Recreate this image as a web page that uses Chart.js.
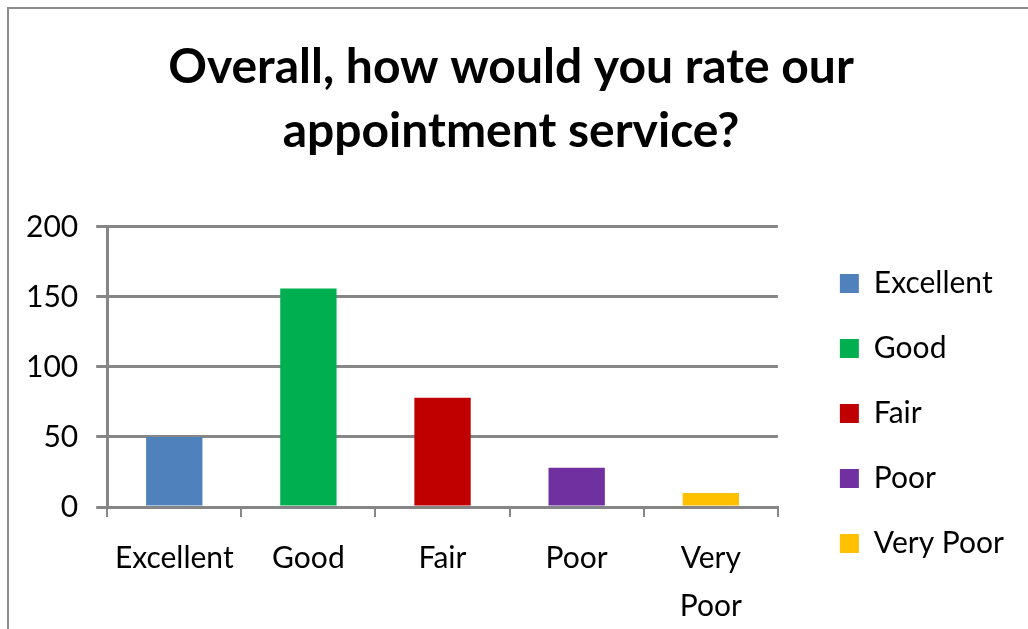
<!DOCTYPE html>
<html>
<head>
<meta charset="utf-8">
<script src="https://cdn.jsdelivr.net/npm/chart.js@4"></script>
<style>
  html, body { margin: 0; padding: 0; background: #fff; }
  #box { width: 1028px; height: 629px; }
</style>
</head>
<body>
<div id="box"><canvas id="grafico"></canvas></div>
<script>
const categorias = ["Excellent", "Good", "Fair", "Poor", "Very Poor"];
const respostas = [50, 156, 78, 28, 10];
const cores = ["#4f81bd", "#00b050", "#c00000", "#7030a0", "#ffc000"];
const ticksY = [0, 50, 100, 150, 200];

const cinza = "#868686";
const fonte = "Lato, 'Liberation Sans', sans-serif";

// moldura cinza da area do grafico
const moldura = {
  id: "moldura",
  beforeDraw(chart) {
    const ctx = chart.ctx;
    ctx.save();
    ctx.strokeStyle = "#8c8c8c";
    ctx.lineWidth = 2;
    ctx.strokeRect(8, 8, 1200, 800);
    ctx.restore();
  }
};

const graf = document.getElementById("grafico");

new Chart(graf, {
  type: "bar",
  data: {
    labels: categorias,
    datasets: [{
      label: "Respostas",
      data: respostas,
      backgroundColor: cores,
      borderWidth: 0,
      barPercentage: 0.42,
      categoryPercentage: 1
    }]
  },
  options: {
    responsive: true,
    maintainAspectRatio: false,
    animation: false,
    layout: { padding: { left: 8, right: 14, top: 10, bottom: 0 } },
    plugins: {
      title: {
        display: true,
        text: ["Overall, how would you rate our", "appointment service?"],
        color: "#000",
        font: { family: fonte, size: 48, weight: "bold", lineHeight: 1.333 },
        padding: { top: 26, bottom: 63 }
      },
      legend: {
        position: "right",
        align: "start",
        maxWidth: 260,
        // titulo vazio so para empurrar os itens para baixo
        title: { display: true, text: "", padding: { top: 0, bottom: 209 } },
        labels: {
          color: "#000",
          font: { family: fonte, size: 30 },
          boxWidth: 19,
          boxHeight: 19,
          padding: 35,
          generateLabels(chart) {
            return categorias.map((c, i) => ({
              text: c,
              fillStyle: cores[i],
              strokeStyle: cores[i],
              fontColor: "#000",
              lineWidth: 0,
              index: i
            }));
          }
        }
      },
      tooltip: { enabled: false }
    },
    scales: {
      x: {
        grid: {
          display: true,
          drawOnChartArea: false,
          offset: true,
          color: cinza,
          lineWidth: 2,
          tickLength: 10
        },
        border: { color: cinza, width: 3 },
        ticks: {
          color: "#000",
          font: { family: fonte, size: 30, lineHeight: 1.6 },
          padding: 17,
          maxRotation: 0,
          autoSkip: false,
          callback(v, i) {
            const t = categorias[i];
            return t.includes(" ") ? t.split(" ") : t;
          }
        },
        // os rotulos de duas linhas passam da borda de baixo
        afterFit(s) { s.height = 122; }
      },
      y: {
        min: 0,
        max: 200,
        afterBuildTicks(axis) {
          axis.ticks = ticksY.map(v => ({ value: v }));
        },
        grid: { color: cinza, lineWidth: 3, tickLength: 11 },
        border: { color: cinza, width: 3 },
        ticks: {
          color: "#000",
          font: { family: fonte, size: 30 },
          padding: 18
        }
      },
      // eixo vazio: so abre espaco entre o grafico e a legenda
      folga: {
        position: "right",
        display: true,
        grid: { display: false },
        border: { display: false },
        ticks: { display: false },
        afterFit(s) { s.width = 27; }
      }
    }
  },
  plugins: [moldura]
});
</script>
</body>
</html>
